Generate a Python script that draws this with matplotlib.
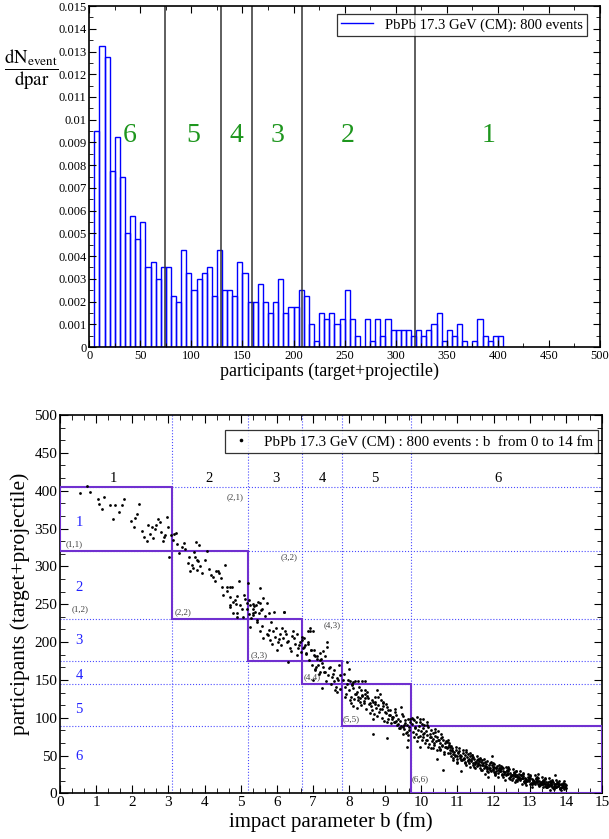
import numpy as np
import matplotlib
matplotlib.use('Agg')
import matplotlib.pyplot as plt
from matplotlib.patches import Rectangle

plt.rcParams['font.family'] = ['Liberation Serif', 'DejaVu Serif']
plt.rcParams['mathtext.fontset'] = 'stix'

# ---- top panel data: dN/dpar histogram, bins of 5 participants from 0 to 405
bin_width = 5
hist_vals = [0, 0.0095, 0.01325, 0.01275, 0.00775, 0.00925, 0.0075, 0.005, 0.00575, 0.00475,
             0.0055, 0.0035, 0.00375, 0.003, 0.0035, 0.0035, 0.00225, 0.002, 0.00425, 0.00325,
             0.0025, 0.003, 0.00325, 0.0035, 0.00225, 0.00425, 0.0025, 0.0025, 0.00225, 0.00375,
             0.00325, 0.002, 0.002, 0.00275, 0.002, 0.0015, 0.002, 0.003, 0.0015, 0.00175,
             0.00175, 0.0025, 0.00225, 0.001, 0.00025, 0.0015, 0.00125, 0.0015, 0.001, 0.00125,
             0.0025, 0.00125, 0.0005, 0, 0.00125, 0.00025, 0.00125, 0.0005, 0.00125, 0.00075,
             0.00075, 0.00075, 0.00075, 0.0005, 0.00075, 0.0005, 0.00075, 0.001, 0.0015, 0.00025,
             0.00075, 0.0005, 0.001, 0.00025, 0, 0.00025, 0.00125, 0.0005, 0.00025, 0.0005,
             0.0005]
class_cuts_part = [73.8, 128.9, 159.0, 208.5, 319.2]
class_names = ['6', '5', '4', '3', '2', '1']
class_name_x = [39.8, 101.8, 144.3, 184.0, 253.0, 390.6]

# ---- bottom panel data: impact parameter vs participants (read off by eye)
# central / mid-central events
b_central = [0.55, 0.76, 0.83, 1.08, 1.15, 1.23, 1.39, 1.48, 1.52, 1.71, 1.77, 1.96, 2.07, 2.14, 2.19,
             2.32, 2.40, 2.44, 2.49, 2.54, 2.63, 2.67, 2.77, 2.80, 2.89, 2.92, 2.95, 3.06, 3.03, 3.15,
             3.20, 3.23, 3.39, 3.46, 3.58, 3.74, 3.76, 3.85, 3.78, 3.83, 3.64, 3.67, 3.60, 3.78, 3.92,
             4.06, 4.13, 4.24, 4.32, 4.37, 4.41, 4.47, 4.56, 4.61, 4.70, 4.77, 4.70, 4.80, 4.87, 4.91,
             4.96, 4.70, 5.03, 5.12, 5.17, 5.20, 5.26, 5.33, 5.35, 5.42, 5.49, 5.54, 5.63, 5.54, 5.58,
             5.72, 5.79, 5.92, 6.20, 5.24, 5.35, 4.91, 5.07,
             4.70, 4.80, 4.89, 5.17, 5.33, 5.40, 5.44, 5.55, 5.63, 5.72, 5.79, 5.81, 5.90, 5.95, 6.00,
             6.04, 6.09, 6.14, 6.18, 6.21, 6.25, 6.29, 6.37, 6.41, 6.46, 6.50, 6.55, 6.60, 6.32, 6.64,
             6.69, 6.75, 6.80, 6.87, 6.92, 6.96, 7.05, 7.08, 7.01, 7.20, 5.26, 5.54,
             1.05, 1.62, 2.05, 2.27, 2.58, 2.71, 2.85, 2.98,
             3.12, 3.28, 3.42, 3.55, 3.70, 3.88, 4.02, 4.18, 4.29, 4.45, 4.52, 4.63, 4.85, 4.98, 5.10,
             5.23, 5.29, 5.36, 5.45, 5.51, 5.60, 5.67, 5.75, 5.84, 5.88, 5.97, 6.06, 6.12, 6.23, 6.31,
             6.40, 6.48, 6.57, 6.62, 6.66]
p_central = [397, 406, 398, 383, 376, 391, 381, 363, 381, 381, 389, 360, 364, 369, 382,
             339, 334, 355, 343, 352, 350, 354, 358, 346, 339, 341, 365, 341, 313, 343,
             344, 330, 326, 323, 312, 313, 332, 328, 308, 307, 302, 298, 294, 295, 291,
             320, 297, 286, 294, 294, 291, 273, 302, 273, 273, 273, 260, 253, 250, 261,
             281, 246, 244, 257, 251, 278, 249, 244, 250, 249, 253, 251, 258, 271, 244,
             252, 238, 240, 240, 237, 238, 238, 233,
             249, 238, 233, 244, 236, 240, 229, 242, 206, 211, 216, 203, 214, 207, 189,
             200, 211, 218, 206, 240, 211, 200, 192, 208, 214, 198, 211, 192, 173, 200,
             207, 194, 185, 200, 214, 189, 181, 167, 150, 176, 220, 214,
             389, 372, 352, 347, 338, 362, 333, 352,
             335, 318, 331, 305, 319, 300, 308, 289, 280, 284, 262, 268, 255, 249, 262,
             255, 232, 247, 226, 239, 221, 234, 209, 226, 198, 218, 204, 196, 214, 202,
             188, 205, 183, 196, 187]

# mid-peripheral events (b ~ 6.7 .. 9.7 fm)
b_mid = [6.69, 6.78, 6.86, 6.91, 6.99, 7.03, 7.11, 7.15, 7.20, 7.22, 7.24, 7.29, 7.33, 7.38, 7.40,
         7.06, 7.20, 7.29, 7.33, 7.43, 7.47, 7.53, 7.57, 7.58, 7.61, 7.66, 7.70, 7.75, 7.72, 7.84,
         7.95, 7.99, 8.02, 8.08, 8.12, 8.17, 8.26, 8.35, 8.44, 8.03, 8.12, 8.19, 8.26, 8.30, 8.35,
         8.40, 8.44, 8.49, 8.58, 8.63, 8.67, 8.72, 8.77, 8.81, 8.86, 8.90, 8.95, 8.99, 9.04, 9.09,
         9.13, 9.18, 9.27, 9.31, 9.36, 9.45, 9.50, 9.55, 9.61, 9.64, 9.59, 9.68, 8.67, 9.06, 9.41,
         9.50,
         6.72, 6.76, 6.82, 6.85, 6.89, 6.94, 6.98, 7.02, 7.07, 7.12, 7.16, 7.25, 7.31, 7.36, 7.44,
         7.50, 7.55, 7.63, 7.68, 7.74,
         7.85, 7.88, 7.92, 7.96, 7.90, 7.94,
         8.01, 8.05, 8.09, 8.13, 8.16, 8.04, 8.11,
         8.21, 8.24, 8.28, 8.32, 8.36, 8.23, 8.34, 8.29,
         8.41, 8.45, 8.48, 8.52, 8.55, 8.43, 8.57, 8.50,
         8.61, 8.64, 8.68, 8.71, 8.75, 8.66, 8.78, 8.73,
         8.81, 8.84, 8.88, 8.92, 8.95, 8.86, 8.98, 8.93,
         9.01, 9.05, 9.08, 9.12, 9.15, 9.03, 9.18, 9.10,
         9.21, 9.24, 9.28, 9.32, 9.35, 9.26, 9.38, 9.30,
         9.41, 9.44, 9.48, 9.52, 9.56, 9.46, 9.58, 9.53,
         9.60, 9.63, 9.66, 9.69, 9.62, 9.67]
p_mid = [203, 196, 214, 218, 215, 189, 181, 170, 185, 177, 139, 188, 182, 200, 194,
         163, 161, 167, 161, 156, 167, 154, 163, 148, 137, 134, 150, 156, 170, 150,
         174, 165, 148, 145, 139, 148, 148, 148, 149, 123, 115, 132, 128, 121, 130,
         119, 126, 134, 119, 110, 99, 121, 137, 128, 132, 112, 121, 108, 95, 110,
         104, 99, 95, 104, 92, 114, 88, 97, 81, 71, 62, 99, 78, 73, 86,
         79,
         192, 205, 184, 198, 176, 190, 170, 183, 165, 178, 158, 172, 160, 149, 166,
         144, 158, 141, 152, 138,
         158, 140, 132, 150, 127, 145,
         136, 128, 143, 125, 131, 119, 147,
         134, 124, 140, 117, 129, 113, 136, 126,
         122, 131, 112, 126, 118, 137, 106, 129,
         116, 124, 105, 128, 113, 121, 102, 118,
         117, 108, 124, 100, 115, 112, 96, 119,
         106, 114, 99, 110, 93, 118, 101, 104,
         101, 94, 108, 90, 99, 112, 87, 96,
         96, 89, 102, 85, 93, 105, 80, 91,
         90, 98, 84, 94, 77, 88]

# peripheral events (b > 9.7 fm)
b_peri = [9.78, 9.87, 9.96, 10.06, 10.15, 9.82, 9.92, 9.96, 10.06, 10.15, 10.19, 10.28, 10.33,
          10.38, 10.42, 10.47, 10.51, 10.56, 10.61, 10.65, 10.70, 10.75, 10.79, 10.84, 10.88, 10.93,
          10.98, 11.02, 11.07, 11.11, 11.16, 11.21, 11.25, 11.30, 11.35, 11.39, 11.44, 11.49, 11.53,
          11.58, 11.62, 11.67, 11.71, 11.76, 11.81, 11.85, 11.90, 11.95, 11.99, 12.04, 12.08, 12.13,
          12.18, 12.22, 12.27, 12.31, 12.36, 12.41, 12.45, 12.50, 12.55, 12.59, 12.64, 12.69, 12.73,
          12.78, 12.82, 12.87, 12.91, 12.96, 13.01, 13.05, 13.10, 13.14, 13.19, 13.24, 13.28, 13.33,
          13.37, 13.42, 13.47, 13.51, 13.56, 13.60, 13.65, 13.70, 13.74, 13.79, 13.84, 13.88, 13.93,
          13.97,
          9.74, 9.76, 9.79, 9.81, 9.83, 9.86, 9.88, 9.90, 9.75, 9.85,
          9.93, 9.95, 9.98, 10.01, 10.03, 10.05, 10.08, 10.10, 9.97, 10.04, 10.07,
          10.12, 10.14, 10.17, 10.19, 10.21, 10.24, 10.26, 10.29, 10.16, 10.23, 10.27,
          10.31, 10.33, 10.36, 10.38, 10.41, 10.43, 10.45, 10.48, 10.35, 10.44, 10.49, 10.39,
          10.51, 10.53, 10.55, 10.58, 10.60, 10.63, 10.66, 10.68, 10.54, 10.62, 10.69, 10.57,
          10.71, 10.73, 10.76, 10.78, 10.81, 10.83, 10.86, 10.89, 10.74, 10.80, 10.87, 10.77, 10.84,
          10.91, 10.93, 10.96, 10.99, 11.01, 11.03, 11.06, 11.08, 10.95, 11.00, 11.05, 10.98, 11.09,
          11.11, 11.13, 11.16, 11.18, 11.21, 11.23, 11.26, 11.28, 11.14, 11.20, 11.25, 11.17, 11.29,
          11.31, 11.33, 11.36, 11.38, 11.41, 11.43, 11.46, 11.48, 11.34, 11.40, 11.45, 11.37, 11.49, 11.42,
          11.51, 11.53, 11.56, 11.58, 11.61, 11.63, 11.66, 11.68, 11.54, 11.60, 11.65, 11.57, 11.69, 11.62,
          11.71, 11.73, 11.76, 11.78, 11.81, 11.83, 11.86, 11.88, 11.74, 11.80, 11.85, 11.77, 11.89, 11.82,
          11.91, 11.93, 11.96, 11.98, 12.01, 12.03, 12.06, 12.08, 11.94, 12.00, 12.05, 11.97, 12.09, 12.02, 11.99,
          12.11, 12.13, 12.16, 12.18, 12.21, 12.23, 12.26, 12.28, 12.14, 12.20, 12.25, 12.17, 12.29, 12.22, 12.19,
          12.31, 12.33, 12.36, 12.38, 12.41, 12.43, 12.46, 12.48, 12.34, 12.40, 12.45, 12.37, 12.49, 12.42, 12.39,
          12.51, 12.53, 12.56, 12.58, 12.61, 12.63, 12.66, 12.68, 12.54, 12.60, 12.65, 12.57, 12.69, 12.62, 12.59, 12.67,
          12.71, 12.73, 12.76, 12.78, 12.81, 12.83, 12.86, 12.88, 12.74, 12.80, 12.85, 12.77, 12.89, 12.82, 12.79, 12.87,
          12.91, 12.93, 12.96, 12.98, 13.01, 13.03, 13.06, 13.08, 12.94, 13.00, 13.05, 12.97, 13.09, 13.02, 12.99, 13.07,
          13.11, 13.13, 13.16, 13.18, 13.21, 13.23, 13.26, 13.28, 13.14, 13.20, 13.25, 13.17, 13.29, 13.22, 13.19, 13.27, 13.12,
          13.31, 13.33, 13.36, 13.38, 13.41, 13.43, 13.46, 13.48, 13.34, 13.40, 13.45, 13.37, 13.49, 13.42, 13.39, 13.47, 13.32,
          13.51, 13.53, 13.56, 13.58, 13.61, 13.63, 13.66, 13.68, 13.54, 13.60, 13.65, 13.57, 13.69, 13.62, 13.59, 13.67, 13.52,
          13.71, 13.73, 13.76, 13.78, 13.81, 13.83, 13.86, 13.88, 13.74, 13.80, 13.85, 13.77, 13.89, 13.82, 13.79, 13.87, 13.72,
          13.91, 13.93, 13.95, 13.97, 13.99, 14.00, 13.92, 13.96, 13.98, 13.94]
p_peri = [99, 101, 95, 99, 95, 86, 75, 62, 79, 71, 62, 75, 60,
          81, 46, 71, 57, 75, 31, 62, 68, 62, 53, 60, 44, 51,
          40, 55, 49, 29, 46, 40, 57, 44, 35, 51, 40, 33, 44,
          37, 46, 31, 40, 26, 35, 22, 31, 49, 35, 26, 33, 22,
          29, 26, 33, 18, 26, 35, 22, 18, 24, 15, 22, 26, 18,
          13, 20, 15, 11, 18, 13, 9, 18, 13, 15, 26, 11, 15,
          9, 13, 9, 15, 4, 11, 15, 24, 9, 13, 7, 11, 13,
          9,
          92, 81, 97, 74, 88, 95, 69, 84, 100, 78,
          89, 76, 83, 92, 71, 86, 80, 66, 98, 74, 90,
          82, 70, 77, 88, 65, 74, 84, 69, 91, 79, 60,
          72, 80, 64, 76, 69, 58, 82, 71, 67, 74, 62, 85,
          66, 59, 73, 63, 70, 55, 67, 61, 78, 52, 69, 64,
          60, 54, 66, 57, 63, 49, 58, 52, 70, 61, 47, 64, 56,
          55, 49, 58, 45, 53, 60, 47, 51, 62, 42, 56, 50, 44,
          50, 44, 53, 47, 41, 55, 48, 43, 58, 51, 38, 46, 52,
          46, 40, 49, 43, 51, 37, 45, 41, 53, 47, 35, 44, 39, 48,
          42, 36, 45, 39, 47, 34, 41, 37, 49, 43, 31, 40, 44, 38,
          38, 33, 41, 35, 43, 30, 37, 34, 46, 39, 28, 36, 40, 32,
          34, 29, 37, 32, 39, 27, 33, 30, 42, 35, 25, 31, 36, 28, 40,
          31, 27, 34, 29, 36, 24, 30, 28, 38, 32, 22, 33, 26, 35, 29,
          28, 24, 31, 26, 33, 21, 27, 25, 35, 29, 19, 30, 23, 32, 26,
          25, 21, 28, 23, 30, 18, 24, 22, 32, 26, 17, 27, 20, 29, 23, 19,
          22, 19, 25, 20, 27, 16, 21, 18, 29, 23, 15, 24, 17, 26, 20, 14,
          19, 16, 22, 18, 24, 14, 19, 16, 26, 20, 13, 21, 15, 23, 17, 12,
          17, 14, 20, 15, 22, 12, 17, 14, 24, 18, 11, 19, 13, 21, 16, 10, 15,
          15, 12, 18, 13, 20, 10, 15, 12, 22, 16, 9, 17, 11, 19, 14, 8, 13,
          13, 10, 16, 11, 18, 8, 13, 10, 20, 14, 7, 15, 9, 17, 12, 6, 11,
          12, 9, 15, 10, 16, 7, 12, 9, 18, 13, 6, 14, 8, 11, 10, 5, 12,
          10, 8, 13, 9, 11, 7, 14, 6, 12, 16]

b_cuts = [3.09, 5.21, 6.69, 7.81, 9.71]
part_cuts = [405, 320, 230, 175, 145, 89]
col_label_x = [1.47, 4.13, 5.98, 7.26, 8.70, 12.13]
row_label_y = [357.6, 272, 202.6, 156.4, 111, 48.5]
cell_labels = ['(1,1)', '(1,2)', '(2,1)', '(3,2)', '(2,2)', '(3,3)', '(4,3)', '(4,4)', '(5,5)', '(6,6)']
cell_label_b = [0.39, 0.55, 4.84, 6.35, 3.40, 5.52, 7.52, 6.98, 8.07, 9.98]
cell_label_p = [329, 243, 391.5, 312, 239, 182, 222.5, 153, 98, 18.6]

fig = plt.figure(figsize=(6.09, 8.39), dpi=100)

# ================= top: histogram
ax1 = fig.add_axes([0.1466, 0.5864, 0.8386, 0.4064])
edges = np.arange(len(hist_vals)) * bin_width
ax1.bar(edges, hist_vals, width=bin_width, align='edge', fill=False,
        edgecolor='#0000ff', linewidth=1.0)
# legend proxy
ax1.plot([], [], color='#0000ff', lw=1, label='PbPb 17.3 GeV (CM): 800 events')
for c in class_cuts_part:
    ax1.axvline(c, color='0.2', lw=1.1)
for name, x in zip(class_names, class_name_x):
    ax1.text(x, 0.0093, name, color='#1e961e', fontsize=20, ha='center', va='center')
ax1.set_xlim(0, 500)
ax1.set_ylim(0, 0.015)
ax1.set_xticks(np.arange(0, 501, 50))
ax1.set_xticks(np.arange(0, 501, 25), minor=True)
ax1.set_yticks(np.arange(0, 0.0151, 0.001))
ax1.set_yticks(np.arange(0, 0.0151, 0.0005), minor=True)
ax1.set_yticklabels(['0'] + ['%g' % v for v in np.arange(0.001, 0.0151, 0.001).round(3)])
ax1.tick_params(which='both', direction='in', top=True, right=True, labelsize=9, pad=2)
ax1.tick_params(which='major', length=5)
ax1.tick_params(which='minor', length=3)
ax1.set_xlabel('participants (target+projectile)', fontsize=13, labelpad=3)
ax1.xaxis.set_label_coords(0.471, -0.045)
leg1 = ax1.legend(loc='upper right', bbox_to_anchor=(0.975, 0.977), borderaxespad=0,
                  fontsize=10.5, frameon=True, fancybox=False, handlelength=2.2,
                  borderpad=0.3)
leg1.get_frame().set_edgecolor('k')
leg1.get_frame().set_linewidth(0.9)
fig.text(0.051, 0.9174, r'$\dfrac{\mathrm{dN}_{\mathrm{event}}}{\mathrm{dpar}}$',
         fontsize=13.5, ha='center', va='center')

# ================= bottom: b vs participants
ax2 = fig.add_axes([0.0985, 0.0543, 0.89, 0.4511])
for b in b_cuts:
    ax2.axvline(b, color='#4a4aff', lw=0.8, ls=':')
for p in part_cuts:
    ax2.axhline(p, color='#4a4aff', lw=0.8, ls=':')
# class boxes along the diagonal
b_edges = [0] + b_cuts + [15]
p_edges = part_cuts + [0]
for i in range(6):
    ax2.add_patch(Rectangle((b_edges[i], p_edges[i + 1]), b_edges[i + 1] - b_edges[i],
                            p_edges[i] - p_edges[i + 1], fill=False,
                            edgecolor='#7030d0', lw=1.5, zorder=3))
b_all = b_central + b_mid + b_peri
p_all = p_central + p_mid + p_peri
ax2.plot(b_all, p_all, 'o', color='k', ms=2, mew=0, ls='none', zorder=4,
         label='PbPb 17.3 GeV (CM) : 800 events : b  from 0 to 14 fm')
for i, x in enumerate(col_label_x):
    ax2.text(x, 416, str(i + 1), fontsize=10.5, ha='center', va='center')
for i, y in enumerate(row_label_y):
    ax2.text(0.53, y, str(i + 1), fontsize=10.5, color='#2020ff', ha='center', va='center')
for t, x, y in zip(cell_labels, cell_label_b, cell_label_p):
    ax2.text(x, y, t, fontsize=6.5, color='0.25', ha='center', va='center')
ax2.set_xlim(0, 15)
ax2.set_ylim(0, 500)
ax2.set_xticks(np.arange(0, 16, 1))
ax2.set_xticks(np.arange(0, 15.01, 1 / 3), minor=True)
ax2.set_yticks(np.arange(0, 501, 50))
ax2.set_yticks(np.arange(0, 501, 50 / 3), minor=True)
ax2.tick_params(which='both', direction='in', top=True, right=True, labelsize=11, pad=2)
ax2.tick_params(which='major', length=6)
ax2.tick_params(which='minor', length=3.5)
ax2.set_xlabel('impact parameter b (fm)', fontsize=15, labelpad=2)
ax2.set_ylabel('participants (target+projectile)', fontsize=15.5, labelpad=3)
leg2 = ax2.legend(loc='upper right', bbox_to_anchor=(0.9926, 0.96), borderaxespad=0,
                  fontsize=10.8, frameon=True, fancybox=False, handlelength=1.5,
                  borderpad=0.3, markerscale=1.3)
leg2.get_frame().set_edgecolor('k')
leg2.get_frame().set_linewidth(0.9)

for ax in (ax1, ax2):
    for s in ax.spines.values():
        s.set_linewidth(1.2)

fig.savefig('out.png', dpi=100)
